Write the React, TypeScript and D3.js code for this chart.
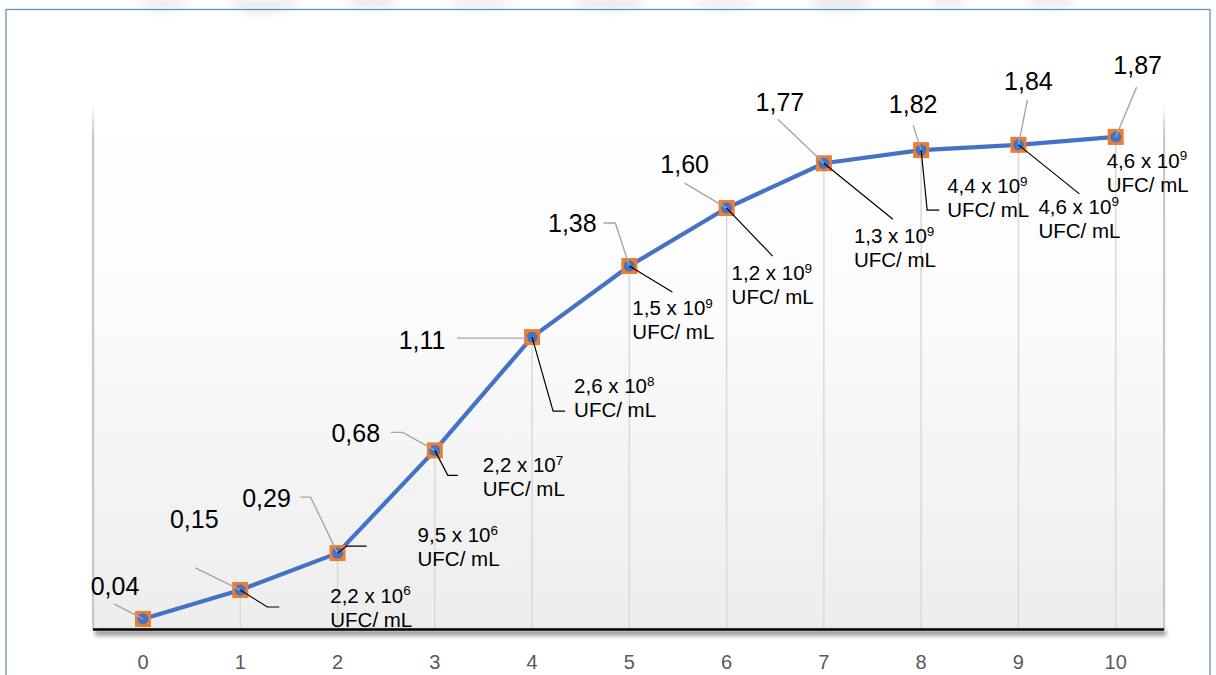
import React from "react";
import * as d3 from "d3";

// Growth curve: time (h) vs optical density, with viable counts per point
const hours = ["0", "1", "2", "3", "4", "5", "6", "7", "8", "9", "10"];
const density = [0.04, 0.15, 0.29, 0.68, 1.11, 1.38, 1.6, 1.77, 1.82, 1.84, 1.87];
const densityLabels = ["0,04", "0,15", "0,29", "0,68", "1,11", "1,38", "1,60", "1,77", "1,82", "1,84", "1,87"];
// Viable counts (mantissa x 10^exponent UFC/ mL); the first hour has none
const countMantissa = [null, "2,2", "9,5", "2,2", "2,6", "1,5", "1,2", "1,3", "4,4", "4,6", "4,6"];
const countExponent = [null, 6, 6, 7, 8, 9, 9, 9, 9, 9, 9];

// Label placement relative to each point: [dx, dy] of the text anchor
const valueLabelOffset: [number, number][] = [
  [-28, -24], [-46, -62], [-71, -46], [-79, -8], [-110, 12], [-57, -34],
  [-42, -35], [-44, -52], [-8, -37], [10, -55], [22, -63],
];
// Grey leader lines from value labels to points (points relative to the marker)
const valueLeader: [number, number][][] = [
  [[-29, -15], [0, 0]],
  [[-45, -22], [0, 0]],
  [[-37, -56], [-27, -56], [0, 0]],
  [[-44, -18], [-32, -18], [0, 0]],
  [[-75, 1], [-4, 1]],
  [[-26, -43], [-14, -43], [0, 0]],
  [[-42, -25], [0, 0]],
  [[-46, -44], [0, 0]],
  [[-8, -25], [0, 0]],
  [[9, -45], [0, 0]],
  [[21, -50], [0, 0]],
];
const countLabelOffset: ([number, number] | null)[] = [
  null, [90, 13], [80, -11], [48, 22], [42, 56], [3, 49], [5, 72], [30, 80], [26, 43], [20, 69], [-9, 31],
];
const countLeader: [number, number][][] = [
  [],
  [[0, 0], [27, 17], [39, 17]],
  [[0, 0], [9, -7], [29, -7]],
  [[0, 0], [13, 25], [23, 25]],
  [[0, 0], [21, 74], [33, 74]],
  [[0, 0], [43, 26]],
  [[0, 0], [46, 48]],
  [[0, 0], [69, 56]],
  [[0, 0], [6, 60], [18, 60]],
  [[0, 0], [61, 49]],
  [],
];

const W = 1216;
const H = 675;
const plot = { left: 93, right: 1164, top: 110, bottom: 629.5 };
const FONT = "'Liberation Sans', Arial, Helvetica, sans-serif";

export default function App() {
  const x = d3.scalePoint<string>().domain(hours).range([143, 1115.7]);
  const y = d3.scaleLinear().domain([0, 2]).range([plot.bottom, 102.7]);

  const pts = hours.map((h, i) => [x(h) as number, y(density[i])] as [number, number]);
  const line = d3.line<[number, number]>();
  const leader = d3.line<[number, number]>();

  return (
    <svg
      width={W}
      height={H}
      style={{ position: "fixed", left: 0, top: 0, background: "#fff" }}
      fontFamily={FONT}
    >
      <defs>
        <linearGradient id="plotBg" x1="0" y1="0" x2="0" y2="1">
          <stop offset="0" stopColor="#ffffff" />
          <stop offset="0.35" stopColor="#fcfcfc" />
          <stop offset="1" stopColor="#ededed" />
        </linearGradient>
        <linearGradient id="edgeFade" x1="0" y1="0" x2="0" y2="1">
          <stop offset="0" stopColor="#c8c8c8" stopOpacity="0" />
          <stop offset="0.06" stopColor="#c8c8c8" stopOpacity="1" />
          <stop offset="1" stopColor="#c8c8c8" stopOpacity="1" />
        </linearGradient>
        <filter id="soft" x="-20%" y="-200%" width="140%" height="500%">
          <feGaussianBlur stdDeviation="2" />
        </filter>
        <filter id="haze" x="-50%" y="-200%" width="200%" height="500%">
          <feGaussianBlur stdDeviation="5" />
        </filter>
      </defs>

      {/* faint emblem at the page top */}
      <g filter="url(#haze)" fill="#dcdcdc" opacity={0.6}>
        <path d="M135,0 Q160,22 195,0 Z" />
        <path d="M228,0 Q250,26 300,4 L300,0 Z" />
        <ellipse cx={372} cy={2} rx={26} ry={7} />
        <path d="M440,0 Q480,18 520,0 Z" />
        <ellipse cx={610} cy={3} rx={36} ry={7} />
        <path d="M690,0 Q720,20 760,0 Z" />
        <ellipse cx={840} cy={3} rx={30} ry={8} />
        <ellipse cx={948} cy={2} rx={18} ry={6} />
        <ellipse cx={1050} cy={2} rx={24} ry={6} />
      </g>

      {/* frame */}
      <rect x={6} y={9.5} width={1204} height={H} fill="none" stroke="#5a86d6" strokeWidth={1.2} />

      {/* plot area */}
      <rect
        x={plot.left}
        y={plot.top}
        width={plot.right - plot.left}
        height={plot.bottom - plot.top}
        fill="url(#plotBg)"
      />
      <rect x={plot.left - 1} y={plot.top - 6} width={2.2} height={plot.bottom - plot.top + 6} fill="url(#edgeFade)" />
      <rect x={plot.right - 1} y={plot.top - 6} width={2.2} height={plot.bottom - plot.top + 6} fill="url(#edgeFade)" />

      {/* drop lines */}
      {pts.map(([px, py], i) => (
        <line key={"d" + i} x1={px} x2={px} y1={py} y2={plot.bottom} stroke="#d9d9d9" strokeWidth={1.5} />
      ))}

      {/* category axis with shadow */}
      <rect
        x={plot.left + 2}
        y={plot.bottom + 1}
        width={plot.right - plot.left}
        height={5}
        fill="#8c8c8c"
        filter="url(#soft)"
      />
      <line x1={plot.left} x2={plot.right} y1={plot.bottom} y2={plot.bottom} stroke="#000" strokeWidth={2.5} />
      {hours.map((h) => (
        <text key={"t" + h} x={x(h)} y={669} textAnchor="middle" fontSize={20} fill="#595959">
          {h}
        </text>
      ))}

      {/* series */}
      <path d={line(pts) || ""} fill="none" stroke="#4472c4" strokeWidth={4.2} strokeLinejoin="round" />
      {pts.map(([px, py], i) => (
        <g key={"m" + i}>
          <rect x={px - 8} y={py - 8} width={16} height={16} fill="#ed7d31" />
          <circle cx={px} cy={py} r={5.5} fill="#4472c4" />
        </g>
      ))}

      {/* value labels */}
      {pts.map(([px, py], i) => (
        <g key={"v" + i}>
          <path
            d={leader(valueLeader[i].map(([dx, dy]) => [px + dx, py + dy] as [number, number])) || ""}
            fill="none"
            stroke="#a6a6a6"
            strokeWidth={1.4}
          />
          <text
            x={px + valueLabelOffset[i][0]}
            y={py + valueLabelOffset[i][1]}
            textAnchor="middle"
            fontSize={25}
            fill="#000"
          >
            {densityLabels[i]}
          </text>
        </g>
      ))}

      {/* viable count labels */}
      {pts.map(([px, py], i) => {
        const off = countLabelOffset[i];
        if (!off || countMantissa[i] === null) return null;
        const tx = px + off[0];
        const ty = py + off[1];
        return (
          <g key={"c" + i}>
            {countLeader[i].length > 0 && (
              <path
                d={leader(countLeader[i].map(([dx, dy]) => [px + dx, py + dy] as [number, number])) || ""}
                fill="none"
                stroke="#000"
                strokeWidth={1.2}
              />
            )}
            <text x={tx} y={ty} fontSize={20.5} fill="#000">
              {countMantissa[i]} x 10
              <tspan fontSize={13.5} dy={-7.5}>
                {countExponent[i]}
              </tspan>
            </text>
            <text x={tx} y={ty + 24} fontSize={20.5} fill="#000">
              UFC/ mL
            </text>
          </g>
        );
      })}
    </svg>
  );
}
